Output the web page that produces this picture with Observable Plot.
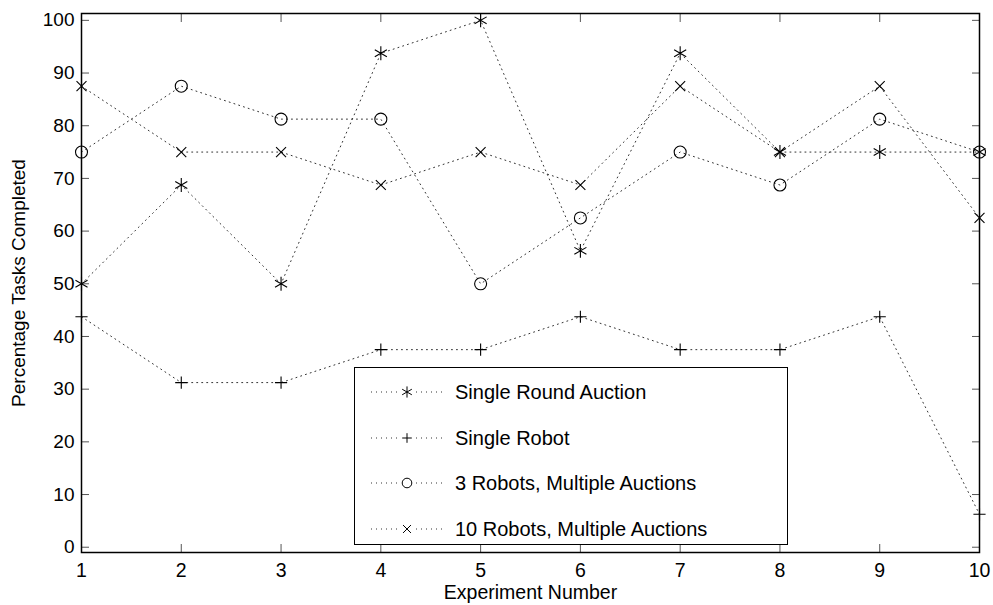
<!DOCTYPE html>
<html><head><meta charset="utf-8">
<script src="https://cdn.jsdelivr.net/npm/d3@7"></script>
<script src="https://cdn.jsdelivr.net/npm/@observablehq/plot@0.6"></script>
<style>
body{margin:0;background:#fff;}
#wrap{position:relative;width:993px;height:605px;font-family:"Liberation Sans",Arial,sans-serif;}
#legend{position:absolute;left:354px;top:367px;width:432px;height:176px;border:1px solid #000;background:#fff;box-sizing:content-box;}
.lg{position:absolute;left:0;height:22px;display:flex;align-items:center;font-size:20px;color:#000;}
.lg svg{margin-left:14px;margin-right:10px;}
</style>
</head><body><div id="wrap"></div>
<script>
const experiments = [1,2,3,4,5,6,7,8,9,10];
const seriesNames = ["Single Round Auction","Single Robot","3 Robots, Multiple Auctions","10 Robots, Multiple Auctions"];
const seriesSymbols = ["asterisk","plus","circle","times"];
const singleRoundAuction = [50,68.75,50,93.75,100,56.25,93.75,75,75,75];
const singleRobot = [43.75,31.25,31.25,37.5,37.5,43.75,37.5,37.5,43.75,6.25];
const threeRobots = [75,87.5,81.25,81.25,50,62.5,75,68.75,81.25,75];
const tenRobots = [87.5,75,75,68.75,75,68.75,87.5,75,87.5,62.5];
const yTicks = [0,10,20,30,40,50,60,70,80,90,100];
const xTicks = experiments;

const allSeries = [singleRoundAuction, singleRobot, threeRobots, tenRobots];
const symbolR = {asterisk:6.6, plus:4, circle:6, times:4.6};
const marks = [];
allSeries.forEach((vals, i) => {
  const data = experiments.map((e, j) => ({x: e, y: vals[j]}));
  marks.push(Plot.line(data, {x:"x", y:"y", stroke:"#333", strokeWidth:1, strokeDasharray:"1,4"}));
  marks.push(Plot.dot(data, {x:"x", y:"y", symbol: ()=>seriesSymbols[i], r: symbolR[seriesSymbols[i]], stroke:"#000", fill:"none", strokeWidth:1.1}));
});

const chart = Plot.plot({
  width: 993, height: 605,
  marginLeft: 81, marginRight: 14, marginTop: 13, marginBottom: 53,
  style: {fontFamily: '"Liberation Sans", Arial, sans-serif', fontSize: "19px", color: "#000", background: "#fff"},
  x: {domain: [1,10], label: null},
  y: {domain: [-1, 101.3], label: null},
  symbol: {type: "identity"},
  marks: [
    Plot.axisX(xTicks, {anchor:"bottom", tickSize:0, tickPadding:11, label:"Experiment Number", labelAnchor:"center", labelArrow:"none", labelOffset:46, fontSize:19.5}),
    Plot.axisX(xTicks, {anchor:"bottom", tickSize:-8, tickFormat:()=>"", label:null, stroke:"#555"}),
    Plot.axisX(xTicks, {anchor:"top", tickSize:-8, tickFormat:()=>"", label:null, stroke:"#555"}),
    Plot.axisY(yTicks, {anchor:"left", tickSize:0, tickPadding:7, label:"Percentage Tasks Completed", labelAnchor:"center", labelArrow:"none", labelOffset:70, fontSize:19}),
    Plot.axisY(yTicks, {anchor:"left", tickSize:-8, tickFormat:()=>"", label:null, stroke:"#555"}),
    Plot.axisY(yTicks, {anchor:"right", tickSize:-8, tickFormat:()=>"", label:null, stroke:"#555"}),
    ...marks,
    Plot.frame({stroke:"#000", strokeWidth:1.5})
  ]
});
const wrap = document.getElementById("wrap");
wrap.appendChild(chart);

const legend = document.createElement("div");
legend.id = "legend";
const rowTops = [13, 59, 104, 150];
seriesNames.forEach((name, i) => {
  const row = document.createElement("div");
  row.className = "lg";
  row.style.top = rowTops[i] + "px";
  const svg = d3.create("svg").attr("width", 76).attr("height", 20);
  svg.append("line").attr("x1",2).attr("x2",76).attr("y1",10).attr("y2",10)
    .attr("stroke","#333").attr("stroke-width",1).attr("stroke-dasharray","1,4");
  const sym = {asterisk:d3.symbolAsterisk, plus:d3.symbolPlus, circle:d3.symbolCircle, times:d3.symbolTimes}[seriesSymbols[i]];
  const r = symbolR[seriesSymbols[i]] * 0.8;
  svg.append("rect").attr("x",32).attr("y",2).attr("width",12).attr("height",16).attr("fill","#fff");
  svg.append("path").attr("d", d3.symbol(sym, Math.PI*r*r)()).attr("transform","translate(38,10)")
    .attr("fill","none").attr("stroke","#000").attr("stroke-width",1);
  row.appendChild(svg.node());
  const span = document.createElement("span");
  span.textContent = name;
  row.appendChild(span);
  legend.appendChild(row);
});
wrap.appendChild(legend);
</script>
</body></html>
